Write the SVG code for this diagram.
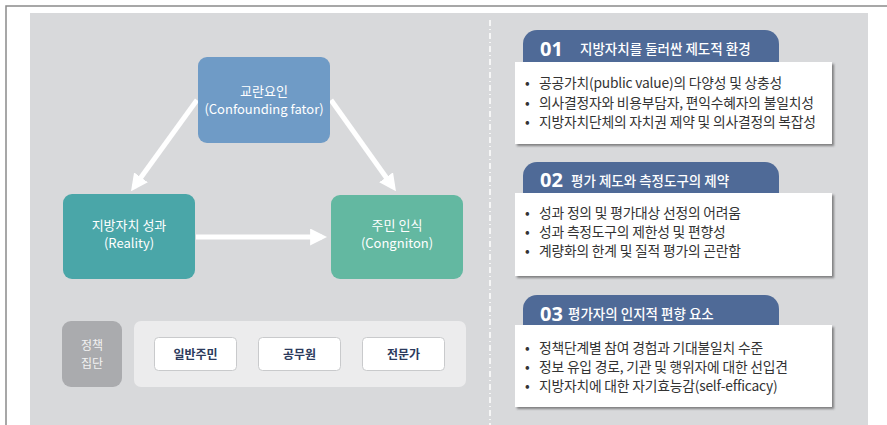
<svg xmlns="http://www.w3.org/2000/svg" width="887" height="425" viewBox="0 0 887 425">
<style>
text{font-family:"Noto Sans CJK KR","Noto Sans",sans-serif}
.nt{fill:#fff;font-size:13px;text-anchor:middle}
.bt{fill:#2b3a5c;font-size:12px;font-weight:bold;text-anchor:middle}
.btn{fill:#fff;stroke:#c9cacc;stroke-width:1}
.tab{fill:#4f6a97}
.box{fill:#fff;filter:url(#sh)}
.num{fill:#fff;font-size:20px;font-weight:bold;font-family:"Noto Sans","DejaVu Sans",sans-serif}
.ttl{fill:#fff;font-size:13.5px;font-weight:500}
.li{fill:#333;font-size:13.8px;letter-spacing:-0.2px}
.arr{stroke:#fff;stroke-width:5;fill:none;marker-end:url(#ah)}
</style>
<defs>
<marker id="ah" viewBox="0 0 10 10" refX="7" refY="5" markerWidth="3.4" markerHeight="3.4" orient="auto" markerUnits="strokeWidth">
<path d="M0,0 L10,5 L0,10 z" fill="#fff"/>
</marker>
<filter id="sh" x="-5%" y="-10%" width="115%" height="130%">
<feDropShadow dx="2" dy="2" stdDeviation="1" flood-color="#444" flood-opacity="0.6"/>
</filter>
</defs>
<rect x="0" y="0" width="887" height="425" fill="#fff"/>
<rect x="6" y="6" width="900" height="440" fill="#fff" stroke="#8a8a8a" stroke-width="1.5"/>
<rect x="30" y="13" width="838" height="420" fill="#d8d9db"/>
<line x1="490" y1="20" x2="490" y2="425" stroke="#fff" stroke-width="1.5" stroke-dasharray="6 3 1 3"/>

<g id="connectors">
<line class="arr" x1="197" y1="100" x2="134" y2="187"/>
<line class="arr" x1="331" y1="100" x2="393" y2="187"/>
<line class="arr" x1="196" y1="237" x2="322" y2="237"/>
</g>

<g id="confounding">
<rect x="198" y="57" width="132" height="86" rx="9" fill="#6f9bc6"/>
<text class="nt" x="264" y="96">교란요인</text>
<text class="nt" x="264" y="114">(Confounding fator)</text>
</g>
<g id="reality">
<rect x="63" y="194" width="132" height="85" rx="9" fill="#4aa6a8"/>
<text class="nt" x="129" y="230">지방자치 성과</text>
<text class="nt" x="129" y="248">(Reality)</text>
</g>
<g id="cognition">
<rect x="331" y="195" width="132" height="84" rx="9" fill="#63b8a1"/>
<text class="nt" x="397" y="230">주민 인식</text>
<text class="nt" x="397" y="248">(Congniton)</text>
</g>

<g id="policy-group">
<rect x="62" y="321" width="60" height="66" rx="9" fill="#aaabae"/>
<text x="92" y="350" fill="#f2f2f2" font-size="12" text-anchor="middle">정책</text>
<text x="92" y="368" fill="#f2f2f2" font-size="12" text-anchor="middle">집단</text>
</g>
<g id="group-panel">
<rect x="134" y="321" width="332" height="66" rx="7" fill="#ececed"/>
</g>
<g id="resident">
<rect class="btn" x="154.5" y="337.5" width="82" height="33" rx="4"/>
<text class="bt" x="195.5" y="359">일반주민</text>
</g>
<g id="official">
<rect class="btn" x="258.5" y="337.5" width="82" height="33" rx="4"/>
<text class="bt" x="299.5" y="359">공무원</text>
</g>
<g id="expert">
<rect class="btn" x="362.5" y="337.5" width="82" height="33" rx="4"/>
<text class="bt" x="403.5" y="359">전문가</text>
</g>

<g id="panel-01">
<path class="tab" d="M523,66 V44 a14,14 0 0 1 14,-14 H765 a14,14 0 0 1 14,14 V66 z"/>
<rect class="box" x="515" y="62" width="317" height="82"/>
<text class="num" x="540" y="56">01</text>
<text class="ttl" x="580" y="54">지방자치를 둘러싼 제도적 환경</text>
<text class="li" x="525" y="88">•</text><text class="li" x="539" y="88">공공가치(public value)의 다양성 및 상충성</text>
<text class="li" x="525" y="107.5">•</text><text class="li" x="539" y="107.5">의사결정자와 비용부담자, 편익수혜자의 불일치성</text>
<text class="li" x="525" y="127">•</text><text class="li" x="539" y="127">지방자치단체의 자치권 제약 및 의사결정의 복잡성</text>
</g>

<g id="panel-02">
<path class="tab" d="M523,197 V176 a14,14 0 0 1 14,-14 H765 a14,14 0 0 1 14,14 V197 z"/>
<rect class="box" x="515" y="193" width="317" height="83"/>
<text class="num" x="540" y="187">02</text>
<text class="ttl" x="571" y="186">평가 제도와 측정도구의 제약</text>
<text class="li" x="525" y="218">•</text><text class="li" x="539" y="218">성과 정의 및 평가대상 선정의 어려움</text>
<text class="li" x="525" y="237">•</text><text class="li" x="539" y="237">성과 측정도구의 제한성 및 편향성</text>
<text class="li" x="525" y="256">•</text><text class="li" x="539" y="256">계량화의 한계 및 질적 평가의 곤란함</text>
</g>

<g id="panel-03">
<path class="tab" d="M523,329 V309 a14,14 0 0 1 14,-14 H765 a14,14 0 0 1 14,14 V329 z"/>
<rect class="box" x="515" y="325" width="317" height="82"/>
<text class="num" x="540" y="321">03</text>
<text class="ttl" x="568" y="319">평가자의 인지적 편향 요소</text>
<text class="li" x="525" y="353">•</text><text class="li" x="539" y="353">정책단계별 참여 경험과 기대불일치 수준</text>
<text class="li" x="525" y="372">•</text><text class="li" x="539" y="372">정보 유입 경로, 기관 및 행위자에 대한 선입견</text>
<text class="li" x="525" y="391">•</text><text class="li" x="539" y="391">지방자치에 대한 자기효능감(self-efficacy)</text>
</g>
</svg>
